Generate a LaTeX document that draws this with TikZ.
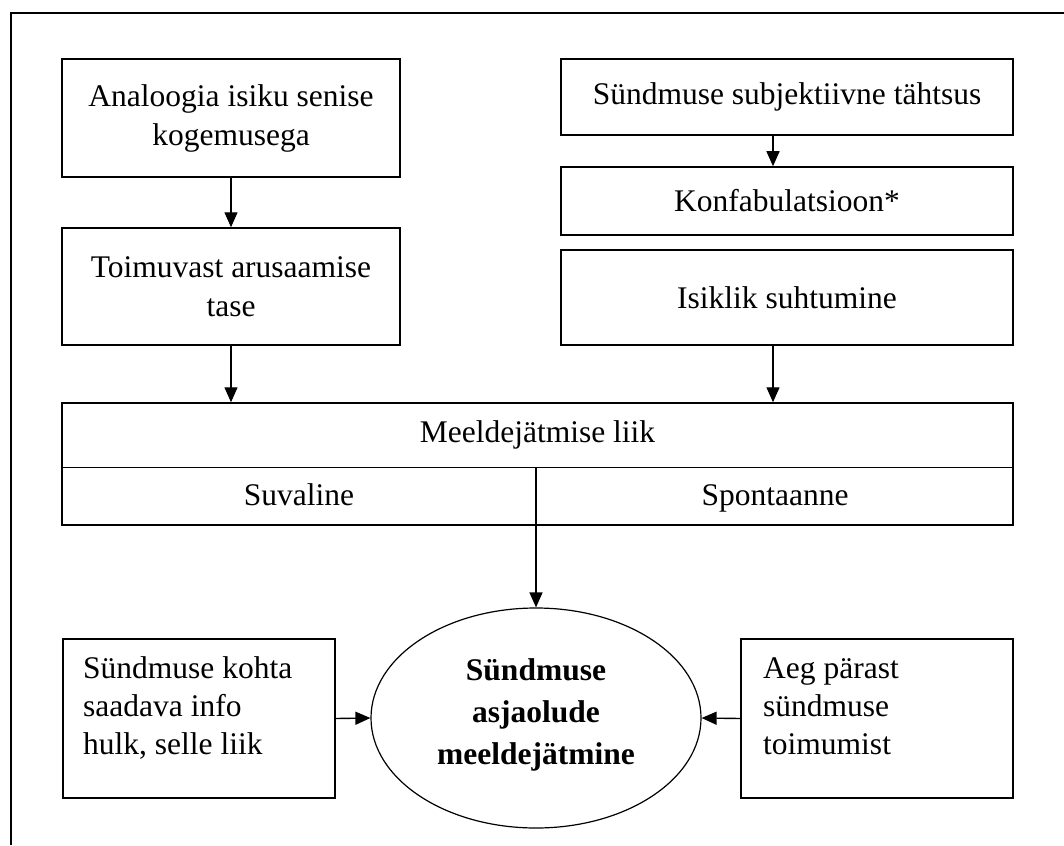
\documentclass[tikz,border=0pt]{standalone}
\usepackage{fontspec}
\setmainfont{Liberation Serif}
\usetikzlibrary{arrows.meta,shapes.geometric,calc}
\begin{document}
\begin{tikzpicture}[x=1pt,y=-1pt,
  box/.style={draw,line width=1.5pt,inner sep=0pt},
  txt/.style={font=\fontsize{31.5}{39}\selectfont,align=center,inner sep=0pt},
  ltxt/.style={font=\fontsize{31.5}{38}\selectfont,align=left,inner sep=0pt,anchor=north west},
  arr/.style={line width=1.4pt,-{Triangle[length=15pt,width=13pt]}}]
\useasboundingbox (0,0) rectangle (1064,845);
\draw[line width=1.5pt] (1064,13) -- (11,13) -- (11,845);

\node[box,txt,minimum width=338pt,minimum height=118pt] (A) at (231,118) {Analoogia isiku senise\\kogemusega};
\node[box,txt,minimum width=452pt,minimum height=76pt] (B) at (787,97) {Sündmuse subjektiivne tähtsus};
\node[box,txt,minimum width=452pt,minimum height=68pt] (K) at (787,201) {Konfabulatsioon*};
\node[box,txt,minimum width=338pt,minimum height=117pt] (C) at (231,286.5) {Toimuvast arusaamise\\tase};
\node[box,txt,minimum width=452pt,minimum height=95pt] (D) at (787,297.5) {Isiklik suhtumine};

\node[box,minimum width=951pt,minimum height=122pt] (M) at (537.5,464) {};
\coordinate (dv) at (536,467.5);
\draw[line width=1.5pt] (M.west |- dv) -- (M.east |- dv);
\draw[line width=1.5pt] (dv) -- (dv |- M.south);
\node[txt,anchor=base] (Mt) at (537.5,442) {Meeldejätmise liik};
\node[txt,anchor=base] (Ms) at (299,505) {Suvaline};
\node[txt,anchor=base] (Mp) at (775,505) {Spontaanne};

\node[draw,ellipse,line width=1.2pt,inner sep=0pt,minimum width=330pt,minimum height=220pt] (E) at (536,718) {};
\node[font=\fontsize{31.5}{42}\selectfont\bfseries,align=center,inner sep=0pt] (Et) at (536,715) {Sündmuse\\asjaolude\\meeldejätmine};

\node[box,minimum width=272pt,minimum height=159pt] (L) at (199,718.5) {};
\node[ltxt] (Lt) at (83,656.5) {Sündmuse kohta\\saadava info\\hulk, selle liik};
\node[box,minimum width=272pt,minimum height=159pt] (R) at (877,718.5) {};
\node[ltxt] (Rt) at (763,657.5) {Aeg pärast\\sündmuse\\toimumist};

\coordinate (xr) at (773,0);
\draw[arr] (A.south) -- (C.north);
\draw[arr] (B.south -| xr) -- (K.north -| xr);
\draw[arr] (C.south) -- (C.south |- M.north);
\draw[arr] (D.south -| xr) -- (M.north -| xr);
\draw[arr] (dv |- M.south) -- (E.north);
\draw[arr] (L.east) -- (E.west);
\draw[arr] (R.west) -- (E.east);
\end{tikzpicture}
\end{document}
